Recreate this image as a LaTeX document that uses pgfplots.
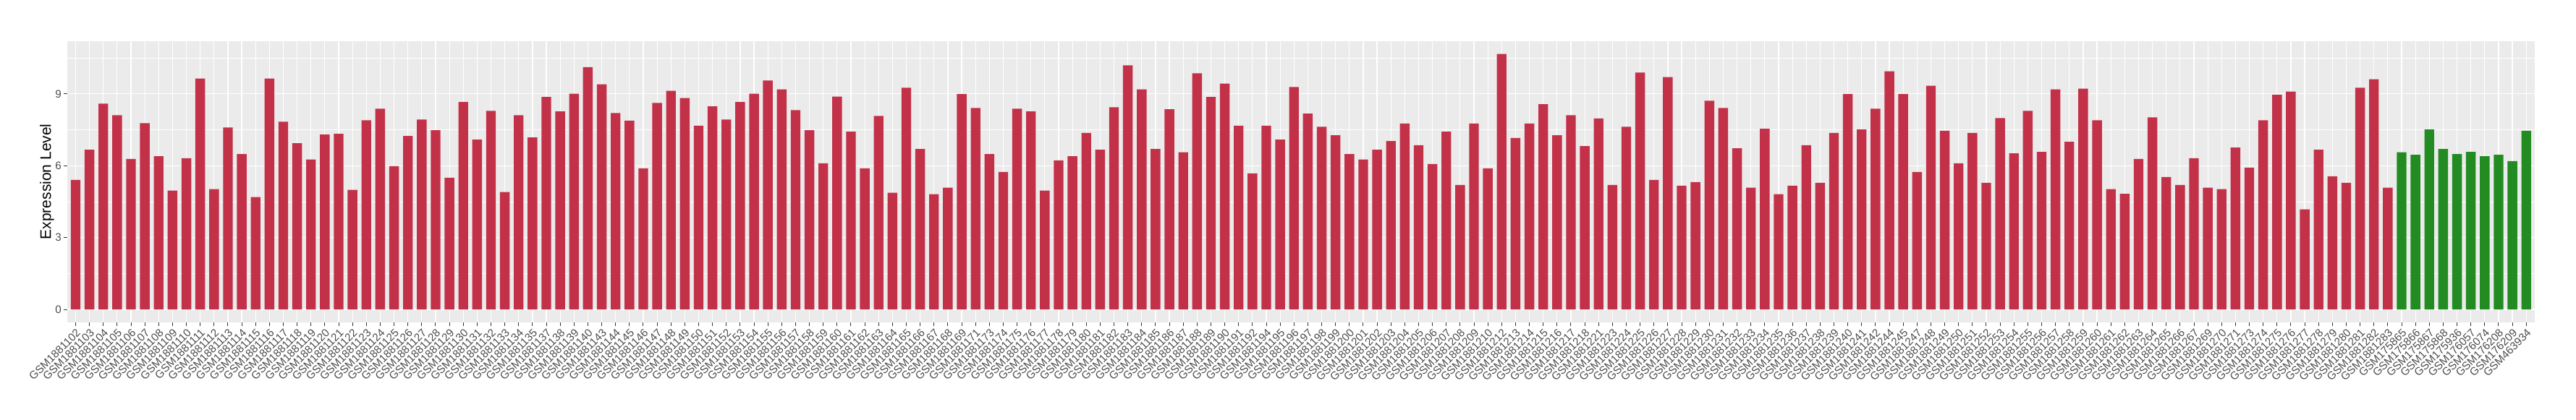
\documentclass[border=0pt]{standalone}
\usepackage{pgfplots}
\pgfplotsset{compat=1.18}
\usepackage{pgfplotstable}
\usepackage{fontspec}
\setmainfont{Liberation Sans}
\definecolor{bg}{HTML}{EBEBEB}
\definecolor{barred}{HTML}{C33149}
\definecolor{bargreen}{HTML}{228B22}
\definecolor{txt}{HTML}{4D4D4D}
\definecolor{tk}{HTML}{333333}
\pgfplotstableread{
x y
0 5.41
1 6.67
2 8.59
3 8.11
4 6.28
5 7.78
6 6.40
7 4.96
8 6.31
9 9.64
10 5.02
11 7.60
12 6.49
13 4.69
14 9.64
15 7.84
16 6.94
17 6.26
18 7.30
19 7.33
20 4.99
21 7.90
22 8.38
23 5.98
24 7.24
25 7.93
26 7.48
27 5.50
28 8.66
29 7.09
30 8.29
31 4.90
32 8.11
33 7.18
34 8.87
35 8.27
36 9.01
37 10.12
38 9.40
39 8.20
40 7.88
41 5.89
42 8.62
43 9.13
44 8.83
45 7.67
46 8.48
47 7.93
48 8.66
49 9.01
50 9.56
51 9.19
52 8.32
53 7.48
54 6.10
55 8.89
56 7.42
57 5.89
58 8.08
59 4.87
60 9.26
61 6.70
62 4.81
63 5.08
64 8.99
65 8.41
66 6.49
67 5.74
68 8.38
69 8.27
70 4.96
71 6.22
72 6.40
73 7.37
74 6.67
75 8.44
76 10.19
77 9.19
78 6.70
79 8.36
80 6.56
81 9.86
82 8.87
83 9.43
84 7.67
85 5.68
86 7.67
87 7.09
88 9.29
89 8.18
90 7.63
91 7.27
92 6.49
93 6.26
94 6.67
95 7.03
96 7.76
97 6.86
98 6.07
99 7.42
100 5.20
101 7.76
102 5.89
103 10.67
104 7.16
105 7.76
106 8.57
107 7.27
108 8.11
109 6.82
110 7.97
111 5.20
112 7.63
113 9.89
114 5.41
115 9.70
116 5.17
117 5.32
118 8.71
119 8.41
120 6.73
121 5.08
122 7.54
123 4.81
124 5.17
125 6.86
126 5.29
127 7.37
128 8.99
129 7.51
130 8.38
131 9.94
132 8.99
133 5.74
134 9.34
135 7.46
136 6.10
137 7.37
138 5.29
139 7.99
140 6.52
141 8.29
142 6.58
143 9.19
144 7.00
145 9.22
146 7.90
147 5.02
148 4.83
149 6.28
150 8.02
151 5.53
152 5.20
153 6.31
154 5.08
155 5.02
156 6.76
157 5.92
158 7.90
159 8.96
160 9.10
161 4.18
162 6.67
163 5.56
164 5.29
165 9.26
166 9.61
167 5.08
}\reddata
\pgfplotstableread{
x y
168 6.56
169 6.46
170 7.51
171 6.70
172 6.49
173 6.58
174 6.40
175 6.46
176 6.19
177 7.46
}\greendata
\begin{document}
\begin{tikzpicture}
\useasboundingbox (0,0) rectangle (1780pt,290pt);
\begin{axis}[
  at={(46.5pt,67.15pt)}, anchor=south west,
  scale only axis, width=1704.85pt, height=194.35pt,
  xmin=-0.6, xmax=177.6, ymin=-0.534, ymax=11.2,
  axis background/.style={fill=bg},
  axis line style={draw=none},
  xtick={0,...,177},
  xticklabels={GSM1881102,GSM1881103,GSM1881104,GSM1881105,GSM1881106,GSM1881107,GSM1881108,GSM1881109,GSM1881110,GSM1881111,GSM1881112,GSM1881113,GSM1881114,GSM1881115,GSM1881116,GSM1881117,GSM1881118,GSM1881119,GSM1881120,GSM1881121,GSM1881122,GSM1881123,GSM1881124,GSM1881125,GSM1881126,GSM1881127,GSM1881128,GSM1881129,GSM1881130,GSM1881131,GSM1881132,GSM1881133,GSM1881134,GSM1881135,GSM1881137,GSM1881138,GSM1881139,GSM1881140,GSM1881143,GSM1881144,GSM1881145,GSM1881146,GSM1881147,GSM1881148,GSM1881149,GSM1881150,GSM1881151,GSM1881152,GSM1881153,GSM1881154,GSM1881155,GSM1881156,GSM1881157,GSM1881158,GSM1881159,GSM1881160,GSM1881161,GSM1881162,GSM1881163,GSM1881164,GSM1881165,GSM1881166,GSM1881167,GSM1881168,GSM1881169,GSM1881171,GSM1881173,GSM1881174,GSM1881175,GSM1881176,GSM1881177,GSM1881178,GSM1881179,GSM1881180,GSM1881181,GSM1881182,GSM1881183,GSM1881184,GSM1881185,GSM1881186,GSM1881187,GSM1881188,GSM1881189,GSM1881190,GSM1881191,GSM1881192,GSM1881194,GSM1881195,GSM1881196,GSM1881197,GSM1881198,GSM1881199,GSM1881200,GSM1881201,GSM1881202,GSM1881203,GSM1881204,GSM1881205,GSM1881206,GSM1881207,GSM1881208,GSM1881209,GSM1881210,GSM1881212,GSM1881213,GSM1881214,GSM1881215,GSM1881216,GSM1881217,GSM1881218,GSM1881221,GSM1881223,GSM1881224,GSM1881225,GSM1881226,GSM1881227,GSM1881228,GSM1881229,GSM1881230,GSM1881231,GSM1881232,GSM1881233,GSM1881234,GSM1881235,GSM1881236,GSM1881237,GSM1881238,GSM1881239,GSM1881240,GSM1881241,GSM1881242,GSM1881244,GSM1881245,GSM1881247,GSM1881248,GSM1881249,GSM1881250,GSM1881251,GSM1881252,GSM1881253,GSM1881254,GSM1881255,GSM1881256,GSM1881257,GSM1881258,GSM1881259,GSM1881260,GSM1881261,GSM1881262,GSM1881263,GSM1881264,GSM1881265,GSM1881266,GSM1881267,GSM1881269,GSM1881270,GSM1881271,GSM1881273,GSM1881274,GSM1881275,GSM1881276,GSM1881277,GSM1881278,GSM1881279,GSM1881280,GSM1881281,GSM1881282,GSM1881283,GSM175865,GSM175866,GSM175867,GSM175868,GSM175936,GSM176057,GSM176074,GSM176208,GSM176209,GSM463934},
  ytick={0,3,6,9},
  minor ytick={1.5,4.5,7.5,10.5},
  xmajorgrids, ymajorgrids, yminorgrids,
  major grid style={white, line width=0.6pt},
  minor grid style={white, line width=0.3pt},
  tick pos=left, tick align=outside,
  major tick length=2.4pt, minor tick length=0pt,
  major tick style={tk, line width=0.5pt},
  ticklabel style={font=\fontsize{7.6}{9}\selectfont, text=txt},
  x tick label style={rotate=45, anchor=north east, inner sep=1pt},
  y tick label style={inner sep=1.5pt},
  /pgf/number format/assume math mode=true,
  ylabel={Expression Level},
  every axis y label/.style={at={([xshift=-14pt]axis description cs:0,0.5)}, rotate=90, anchor=center, font=\fontsize{10.5}{12}\selectfont, text=black},
]
\addplot[ybar, bar width=0.7, fill=barred, draw=none] table[x=x, y=y] {\reddata};
\addplot[ybar, bar width=0.7, fill=bargreen, draw=none] table[x=x, y=y] {\greendata};
\end{axis}
\end{tikzpicture}
\end{document}
